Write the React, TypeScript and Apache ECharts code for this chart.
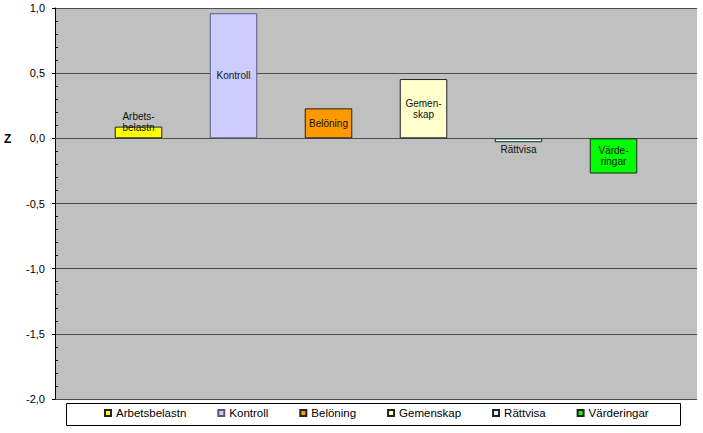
import React, { useEffect, useRef } from "react";
import * as echarts from "echarts";

const categories = ["Z"];
const seriesNames = ["Arbetsbelastn", "Kontroll", "Belöning", "Gemenskap", "Rättvisa", "Värderingar"];
const barLabels = ["Arbets-\nbelastn", "Kontroll", "Belöning", "Gemen-\nskap", "Rättvisa", "Värde-\nringar"];
const values = [0.09, 0.96, 0.23, 0.455, -0.03, -0.27];
const yTicks = { min: -2, max: 1, interval: 0.5 };

const colors = ["#ffff00", "#ccccff", "#ff9900", "#ffffcc", "#ccffff", "#00ff00"];
const borders = ["#222", "#5a5a78", "#222", "#222", "#222", "#222"];

const FONT = "'Liberation Sans', Arial, sans-serif";

export default function App() {
  const ref = useRef<HTMLDivElement>(null);
  useEffect(() => {
    if (!ref.current) return;
    const chart = echarts.init(ref.current, null, { renderer: "svg" });
    const labelPos = (i: number) => {
      if (i === 0) return { position: "inside", offset: [0, -10] };
      if (i === 4) return { position: "bottom", distance: 2 };
      return { position: "inside" };
    };
    const series = seriesNames.map((name, i) => ({
      name,
      type: "bar",
      yAxisIndex: 0,
      barWidth: 47.5,
      barGap: "100%",
      data: [values[i]],
      itemStyle: { color: colors[i], borderColor: borders[i], borderWidth: 1 },
      label: {
        show: true,
        ...labelPos(i),
        formatter: () => barLabels[i],
        fontFamily: FONT,
        fontSize: 10,
        lineHeight: 11,
        color: "#111",
      },
    }));
    chart.setOption({
      animation: false,
      backgroundColor: "#ffffff",
      textStyle: { fontFamily: FONT },
      grid: {
        left: 55,
        right: 6,
        top: 8,
        bottom: 34,
        show: true,
        backgroundColor: "#c0c0c0",
        borderWidth: 0,
      },
      xAxis: {
        type: "category",
        data: categories,
        axisLine: { show: true, lineStyle: { color: "#4d4d4d", width: 1 } },
        axisTick: { show: false },
        axisLabel: { show: false },
        splitLine: { show: false },
      },
      yAxis: [
        {
          type: "value",
          min: yTicks.min,
          max: yTicks.max,
          interval: yTicks.interval,
          axisLine: { show: true, lineStyle: { color: "#000", width: 1 } },
          axisTick: { show: true, inside: false, length: 3, lineStyle: { color: "#000" } },
          axisLabel: {
            margin: 10,
            fontSize: 11,
            fontFamily: FONT,
            color: "#000",
            formatter: (v: number) => v.toFixed(1).replace(".", ","),
          },
          splitLine: { show: true, lineStyle: { color: "#4d4d4d", width: 1 } },
        },
        {
          type: "value",
          position: "left",
          min: yTicks.min,
          max: yTicks.max,
          interval: yTicks.interval,
          axisLine: { show: false },
          axisTick: { show: false, inside: true },
          minorTick: { show: true, splitNumber: 5, length: 3, lineStyle: { color: "#000" } },
          axisLabel: { show: false },
          splitLine: { show: false },
        },
      ],
      legend: {
        left: 104,
        top: 407,
        padding: 0,
        itemGap: 31,
        itemWidth: 6,
        itemHeight: 6,
        icon: "rect",
        data: seriesNames,
        textStyle: { fontFamily: FONT, fontSize: 11.5, color: "#000" },
      },
      graphic: [
        {
          type: "rect",
          z: -1,
          silent: true,
          shape: { x: 66.5, y: 403.5, width: 614, height: 22 },
          style: { fill: "#ffffff", stroke: "#000", lineWidth: 1 },
        },
        {
          type: "text",
          left: 4,
          top: 133,
          style: { text: "Z", font: `bold 12px ${FONT}`, fill: "#000" },
        },
      ],
      series,
    });
    return () => chart.dispose();
  }, []);
  return (
    <div
      ref={ref}
      style={{ position: "fixed", left: 0, top: 0, width: 703, height: 433 }}
    />
  );
}
